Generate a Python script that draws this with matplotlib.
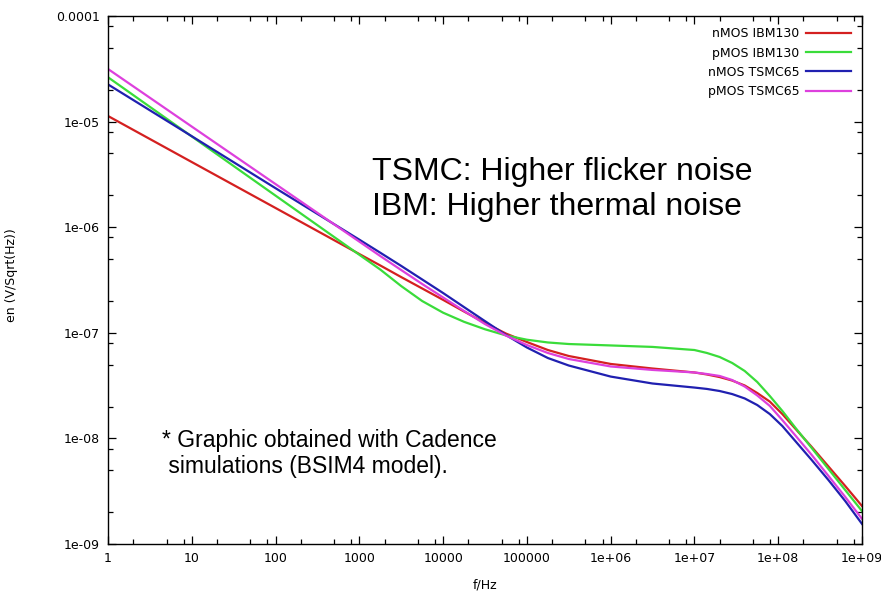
import matplotlib
matplotlib.use("Agg")
import matplotlib.pyplot as plt
from matplotlib.ticker import LogLocator, FixedLocator, FixedFormatter, NullFormatter

# ---- data ----
freq = [1, 10, 100, 1e3, 1.78e3, 3.16e3, 5.62e3, 1e4, 1.78e4, 3.16e4, 5.62e4, 1e5,
        1.78e5, 3.16e5, 1e6, 3.16e6, 1e7, 1.41e7, 2e7, 2.82e7, 3.98e7, 5.62e7,
        7.94e7, 1.12e8, 1.58e8, 2.51e8, 3.98e8, 6.31e8, 1e9]

nmos_ibm130 = [1.13e-5, 4.14e-6, 1.52e-6, 5.57e-7, 4.34e-7, 3.37e-7, 2.63e-7, 2.05e-7,
               1.59e-7, 1.24e-7, 9.84e-8, 8.18e-8, 6.87e-8, 6.03e-8, 5.07e-8, 4.59e-8,
               4.21e-8, 4.03e-8, 3.81e-8, 3.53e-8, 3.17e-8, 2.69e-8, 2.23e-8, 1.70e-8,
               1.25e-8, 8.30e-9, 5.42e-9, 3.54e-9, 2.29e-9]
pmos_ibm130 = [2.63e-5, 7.23e-6, 1.99e-6, 5.48e-7, 3.97e-7, 2.77e-7, 2.00e-7, 1.55e-7,
               1.27e-7, 1.08e-7, 9.45e-8, 8.60e-8, 8.10e-8, 7.83e-8, 7.59e-8, 7.35e-8,
               6.87e-8, 6.44e-8, 5.90e-8, 5.18e-8, 4.35e-8, 3.42e-8, 2.52e-8, 1.82e-8,
               1.28e-8, 8.11e-9, 5.13e-9, 3.24e-9, 2.05e-9]
nmos_tsmc65 = [2.25e-5, 7.27e-6, 2.34e-6, 7.62e-7, 5.73e-7, 4.30e-7, 3.20e-7, 2.38e-7,
               1.75e-7, 1.29e-7, 9.53e-8, 7.26e-8, 5.77e-8, 4.90e-8, 3.85e-8, 3.31e-8,
               3.03e-8, 2.94e-8, 2.81e-8, 2.63e-8, 2.39e-8, 2.07e-8, 1.70e-8, 1.31e-8,
               9.55e-9, 6.24e-9, 4.03e-9, 2.55e-9, 1.55e-9]
pmos_tsmc65 = [3.15e-5, 8.97e-6, 2.56e-6, 7.30e-7, 5.33e-7, 3.93e-7, 2.90e-7, 2.16e-7,
               1.61e-7, 1.21e-7, 9.42e-8, 7.66e-8, 6.44e-8, 5.65e-8, 4.80e-8, 4.45e-8,
               4.21e-8, 4.07e-8, 3.90e-8, 3.57e-8, 3.10e-8, 2.55e-8, 2.03e-8, 1.49e-8,
               1.08e-8, 6.97e-9, 4.41e-9, 2.79e-9, 1.73e-9]

series_labels = ["nMOS IBM130", "pMOS IBM130", "nMOS TSMC65", "pMOS TSMC65"]
series_colors = ["#d42020", "#3adc3a", "#2020b0", "#dd40dd"]

xtick_vals = [1, 10, 100, 1e3, 1e4, 1e5, 1e6, 1e7, 1e8, 1e9]
xtick_labels = ["1", "10", "100", "1000", "10000", "100000", "1e+06", "1e+07", "1e+08", "1e+09"]
ytick_vals = [1e-9, 1e-8, 1e-7, 1e-6, 1e-5, 1e-4]
ytick_labels = ["1e-09", "1e-08", "1e-07", "1e-06", "1e-05", "0.0001"]

W, H = 881, 598
fig = plt.figure(figsize=(W / 100, H / 100), dpi=100)
ax = fig.add_axes([108 / W, (H - 544) / H, (862 - 108) / W, (544 - 16) / H])

for vals, lab, col in zip([nmos_ibm130, pmos_ibm130, nmos_tsmc65, pmos_tsmc65],
                          series_labels, series_colors):
    ax.plot(freq, vals, color=col, lw=1.6, label=lab, solid_joinstyle="round")

ax.set_xscale("log")
ax.set_yscale("log")
ax.set_xlim(1, 1e9)
ax.set_ylim(1e-9, 1e-4)

ax.xaxis.set_major_locator(FixedLocator(xtick_vals))
ax.xaxis.set_major_formatter(FixedFormatter(xtick_labels))
ax.yaxis.set_major_locator(FixedLocator(ytick_vals))
ax.yaxis.set_major_formatter(FixedFormatter(ytick_labels))
ax.xaxis.set_minor_locator(LogLocator(base=10, subs=[2, 5, 8], numticks=30))
ax.yaxis.set_minor_locator(LogLocator(base=10, subs=[2, 5, 8], numticks=30))
ax.xaxis.set_minor_formatter(NullFormatter())
ax.yaxis.set_minor_formatter(NullFormatter())

ax.tick_params(which="both", direction="in", top=True, right=True, color="black",
               labelsize=9, width=0.9)
ax.tick_params(which="major", length=6, pad=6)
ax.tick_params(which="minor", length=3.5)
for lab in ax.get_xticklabels() + ax.get_yticklabels():
    lab.set_fontfamily("DejaVu Sans")
for s in ax.spines.values():
    s.set_linewidth(1.0)

leg = ax.legend(loc="upper right", markerfirst=False, frameon=False, fontsize=9,
                handlelength=3.6, handletextpad=0.5, labelspacing=0.5,
                borderaxespad=0.9, borderpad=0.0)

fig.text(12 / W, 1 - 275 / H, "en (V/Sqrt(Hz))", rotation=90, ha="center", va="center",
         fontsize=9, family="DejaVu Sans")
fig.text(485 / W, 1 - 585 / H, "f/Hz", ha="center", va="center",
         fontsize=9, family="DejaVu Sans")

fig.text(372 / W, 1 - 172 / H, "TSMC: Higher flicker noise", ha="left", va="center",
         fontsize=23, family="Liberation Sans")
fig.text(372 / W, 1 - 207 / H, "IBM: Higher thermal noise", ha="left", va="center",
         fontsize=23, family="Liberation Sans")
fig.text(162 / W, 1 - 441 / H, "* Graphic obtained with Cadence", ha="left", va="center",
         fontsize=16.5, family="Liberation Sans")
fig.text(162 / W, 1 - 467 / H, " simulations (BSIM4 model).", ha="left", va="center",
         fontsize=16.5, family="Liberation Sans")

fig.savefig("out.png", dpi=100)
